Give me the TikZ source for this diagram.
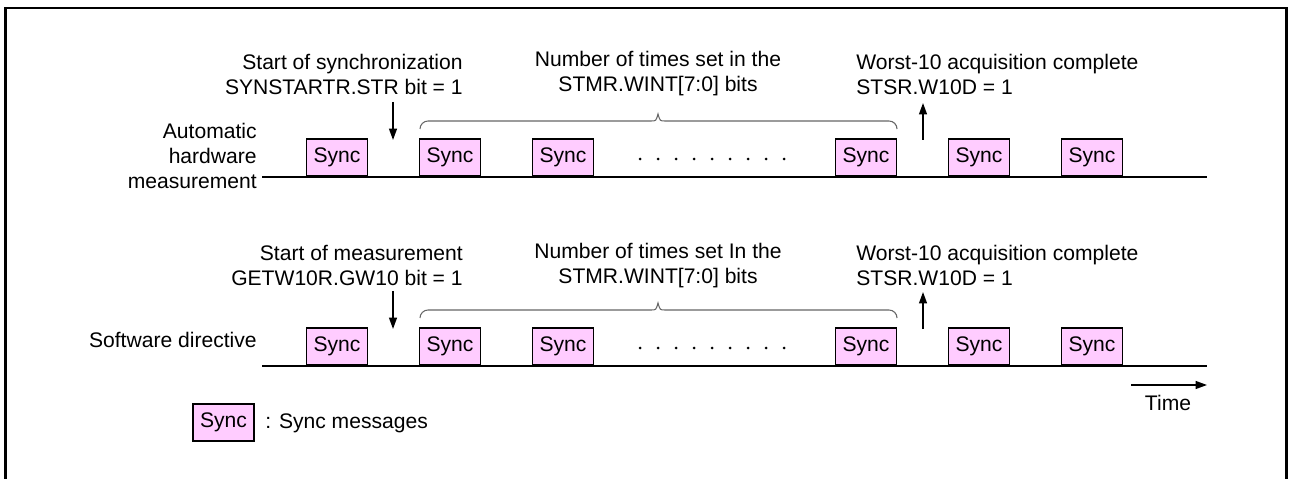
\documentclass[tikz,border=0pt]{standalone}
\usepackage{fontspec}
\setmainfont{Liberation Sans}
\usepackage{tikz}
\usetikzlibrary{arrows.meta}
\definecolor{syncpink}{HTML}{FFCCFF}
\definecolor{bracegray}{HTML}{666666}

\begin{document}
\begin{tikzpicture}[x=0.02cm,y=-0.02cm,
	every node/.style={font=\fontsize{12}{14.2}\selectfont},
	lbl/.style={inner sep=0pt},
	syncbox/.style={draw,line width=1.1pt,fill=syncpink,minimum width=1.22cm,minimum height=0.74cm,inner sep=0pt},
	tline/.style={line width=0.8pt},
	marker/.style={line width=0.9pt,-{Triangle[length=6.5pt,width=4.5pt]}},
	brace/.style={bracegray,line width=0.6pt}]
	\useasboundingbox (0,0) rectangle (1290,479);
	
	% frame, open at the bottom
	\draw[line width=1.7pt] (5.5,479) -- (5.5,8) -- (1286,8) -- (1286,479);
	
	\foreach \r/\y in {u/177,l/366}{
		\coordinate (\r s) at (262,\y);
		\coordinate (\r e) at (1207,\y);
		\draw[tline] (\r s) -- (\r e);
		\foreach \n/\x in {1/337,2/450,3/563,4/866,5/979,6/1092}
			\node[syncbox,anchor=south] (\r\n) at (\x,\y) {Sync};
		\foreach \k in {0,...,8}
			\fill (640+18*\k,\y-18) circle[radius=0.85pt];
		% start / complete markers
		\coordinate (\r d0) at (393,\y-75);
		\coordinate (\r d1) at (393,\y-37);
		\draw[marker] (\r d0) -- (\r d1);
		\coordinate (\r c0) at (923,\y-37);
		\coordinate (\r c1) at (923,\y-74);
		\draw[marker] (\r c0) -- (\r c1);
		% brace over the counted messages
		\draw[brace] (420,\y-48) to[out=90,in=180] (428,\y-56) -- (651,\y-56)
			.. controls (656,\y-56) .. (658,\y-63)
			.. controls (660,\y-56) .. (665,\y-56) -- (889,\y-56)
			to[out=0,in=90] (897,\y-48);
	}
	
	\node[lbl,anchor=east,align=right] (synstart) at (463,74) {Start of synchronization\\SYNSTARTR.STR bit = 1};
	\node[lbl,align=center] (wintu) at (658,74) {Number of times set in the\\STMR.WINT[7:0] bits};
	\node[lbl,anchor=west,align=left] (w10u) at (856,74) {Worst-10 acquisition complete\\STSR.W10D = 1};
	\node[lbl,anchor=east,align=right] (hwlabel) at (257,156) {Automatic\\hardware\\measurement};
	
	\node[lbl,anchor=east,align=right] (measstart) at (463,265.5) {Start of measurement\\GETW10R.GW10 bit = 1};
	\node[lbl,align=center] (wintl) at (658,265.5) {Number of times set In the\\STMR.WINT[7:0] bits};
	\node[lbl,anchor=west,align=left] (w10l) at (856,265.5) {Worst-10 acquisition complete\\STSR.W10D = 1};
	\node[lbl,anchor=east] (swlabel) at (257,340) {Software directive};
	
	% time axis
	\coordinate (t0) at (1131,385);
	\coordinate (t1) at (1207,385);
	\draw[marker] (t0) -- (t1);
	\node[lbl] (time) at (1168,403) {Time};
	
	% key
	\node[syncbox] (key) at (223.5,422.5) {Sync};
	\node[lbl,anchor=west] (keytext) at (265,423) {: Sync messages};
\end{tikzpicture}
\end{document}
